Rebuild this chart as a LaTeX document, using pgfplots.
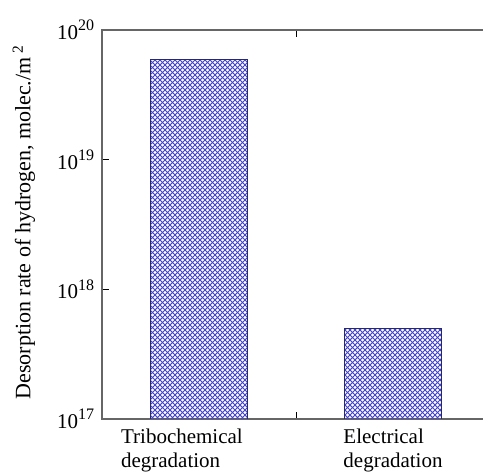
\documentclass[border=0pt]{standalone}
\usepackage{fontspec}
\setmainfont{Liberation Serif}
\usepackage{pgfplots}
\pgfplotsset{compat=1.18}
\definecolor{hatch}{RGB}{70,70,205}
\definecolor{edge}{RGB}{40,40,110}
\pgfdeclarepatternformonly{xhatch}{\pgfqpoint{-1pt}{-1pt}}{\pgfqpoint{6pt}{6pt}}{\pgfqpoint{5pt}{5pt}}{%
  \pgfsetlinewidth{0.75pt}%
  \pgfpathmoveto{\pgfqpoint{-1pt}{-1pt}}\pgfpathlineto{\pgfqpoint{6pt}{6pt}}%
  \pgfpathmoveto{\pgfqpoint{-1pt}{6pt}}\pgfpathlineto{\pgfqpoint{6pt}{-1pt}}%
  \pgfusepath{stroke}}
\usetikzlibrary{patterns}
\newcommand{\tl}[1]{10\raisebox{0.42em}{\fontsize{16}{16}\selectfont #1}}
\begin{document}
\fontsize{20}{24}\selectfont
\begin{tikzpicture}
\path[use as bounding box] (0,0) rectangle (483pt,475pt);
\begin{axis}[
  at={(102pt,56pt)}, anchor=south west,
  scale only axis, width=388pt, height=389pt,
  ymode=log, ymin=1e17, ymax=1e20, log origin=infty,
  xmin=-0.5, xmax=1.5,
  axis line style={line width=1.1pt, black!60},
  ytick={1e17,1e18,1e19,1e20},
  yticklabels={\tl{17},\tl{18},\tl{19},\tl{20}},
  yminorticks=false,
  ytick pos=left,
  xtick={0.5}, xticklabels={{}},
  xtick pos=both,
  major tick length=7pt,
  tick style={black, line width=0.8pt},
  extra x ticks={-0.088,1.0},
  extra x tick labels={Tribochemical\\degradation,Electrical\\degradation},
  extra x tick style={major tick length=0pt, xticklabel style={align=left, yshift=-3pt}},
  tick label style={font=\fontsize{21}{24}\selectfont},
  yticklabel style={xshift=-1pt},
  ylabel={Desorption rate of hydrogen, molec./m\,\textsuperscript{2}},
  ylabel style={font=\fontsize{22}{24}\selectfont, at={(axis description cs:-0.201,0.505)}, anchor=center},
  ybar, bar width=0.5,
  tick align=inside,
]
\addplot[draw=edge, line width=0.8pt, pattern=xhatch, pattern color=hatch]
  coordinates {(0,5.97e19) (1,5.0e17)};
\end{axis}
\end{tikzpicture}
\end{document}
